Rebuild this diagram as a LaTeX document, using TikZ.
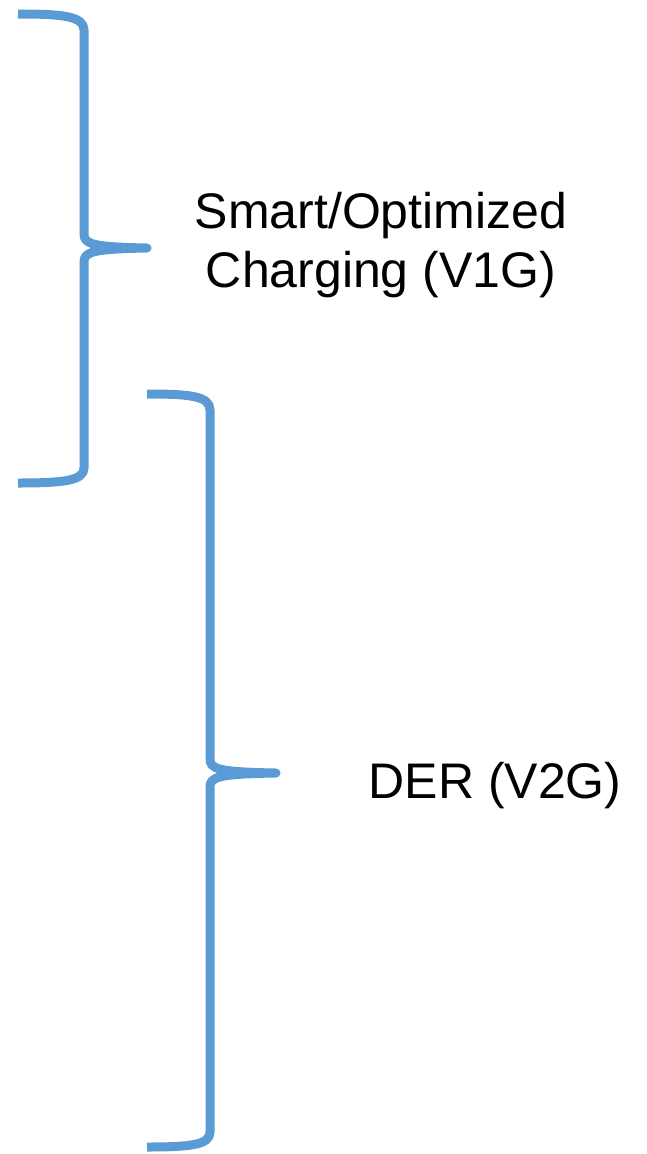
\documentclass[tikz,border=0pt]{standalone}
\usepackage{fontspec}
\usepackage{xcolor}
\usetikzlibrary{positioning}
\setmainfont{Liberation Sans}
\definecolor{braceblue}{HTML}{5B9BD5}

\tikzset{
  brace/.style = {draw=braceblue, line width=9pt, line join=round},
  label/.style = {align=center, inner sep=0pt, font=\fontsize{50}{59}\selectfont}
}

\begin{document}
\begin{tikzpicture}[x=1pt, y=-1pt]

\useasboundingbox (0,0) rectangle (646,1154);

% ends and tips of the braces
\coordinate (v1g top) at (18,14);
\coordinate (v1g tip) at (147,248);
\coordinate (v1g bot) at (18,483);
\coordinate (v2g top) at (147,394);
\coordinate (v2g tip) at (276,773);
\coordinate (v2g bot) at (147,1147);

% upper brace
\draw[brace] (v1g top) .. controls (62,14) and (84,16) .. (84,30)
  -- (84,234) .. controls (84,244) and (92,247) .. (v1g tip)
  .. controls (92,249) and (84,252) .. (84,262)
  -- (84,468) .. controls (84,481) and (62,483) .. (v1g bot);

% lower brace
\draw[brace] (v2g top) .. controls (190,394) and (210,396) .. (210,410)
  -- (210,759) .. controls (210,769) and (218,772) .. (v2g tip)
  .. controls (218,774) and (210,777) .. (210,787)
  -- (210,1132) .. controls (210,1145) and (190,1147) .. (v2g bot);

% labels
\node[label] (v1g) at (381,245) {Smart/Optimized\\Charging (V1G)};
\node[label, anchor=base] (v2g) at (495,798) {DER (V2G)};

\end{tikzpicture}
\end{document}
